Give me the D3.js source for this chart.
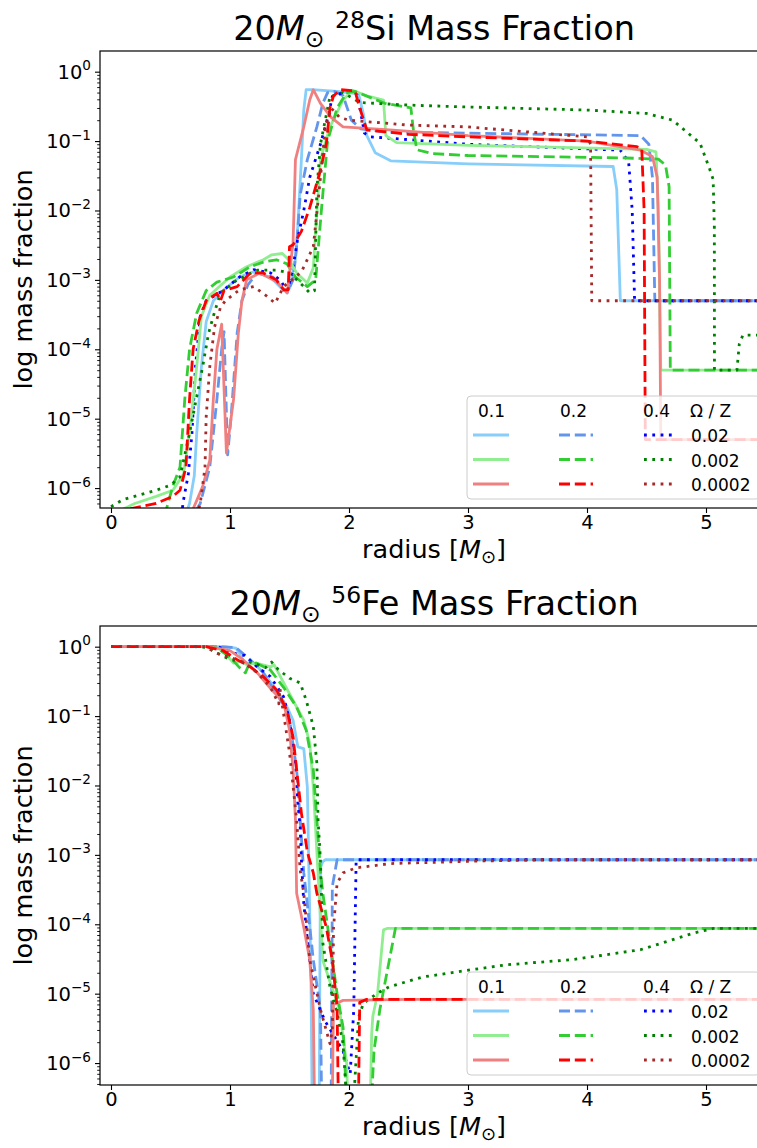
<!DOCTYPE html>
<html><head><meta charset="utf-8">
<script src="https://cdn.jsdelivr.net/npm/d3@7"></script>
<style>body{margin:0;background:#fff}svg{display:block}text{font-family:"DejaVu Sans",sans-serif;fill:#000}</style>
</head><body><svg id="c" width="757" height="1148"></svg>
<script>
// ---------- labels ----------
const omegaLabels = ["0.1", "0.2", "0.4"];
const zLabels = ["0.02", "0.002", "0.0002"];
const xTicks = [0, 1, 2, 3, 4, 5];
const yTickExps = [0, -1, -2, -3, -4, -5, -6];

// ---------- 28Si mass fraction: [radius, X] ----------
const si_z02_o1 = [[0.60,3e-7],[0.66,6e-7],[0.70,1.5e-6],[0.72,6e-6],[0.76,5.6e-5],[0.80,2.5e-4],[0.86,5e-4],[0.94,7e-4],[1.08,1.1e-3],[1.19,1.3e-3],[1.34,1.1e-3],[1.45,7e-4],[1.50,7.5e-4],[1.55,2e-3],[1.57,6e-3],[1.60,5.4e-2],[1.62,0.28],[1.64,0.55],[1.69,0.55],[1.90,0.52],[2.08,0.48],[2.12,0.25],[2.15,0.12],[2.22,0.068],[2.35,0.052],[3.0,0.047],[4.22,0.043],[4.25,0.02],[4.28,5e-4],[5.6,5e-4]];
const si_z02_o2 = [[0.64,3e-7],[0.75,6e-7],[0.83,2e-6],[0.89,1.9e-5],[0.93,1e-4],[0.95,1.8e-4],[0.98,3e-6],[1.01,1.1e-5],[1.06,1.7e-4],[1.10,5e-4],[1.15,8.5e-4],[1.23,1.26e-3],[1.36,1.1e-3],[1.48,6.5e-4],[1.53,1e-3],[1.56,3e-3],[1.59,1.7e-2],[1.65,5.4e-2],[1.73,0.16],[1.78,0.35],[1.82,0.5],[1.88,0.52],[1.95,0.45],[2.02,0.2],[2.1,0.15],[2.3,0.135],[3.0,0.13],[4.45,0.12],[4.52,0.09],[4.55,3e-2],[4.57,5e-4],[5.6,5e-4]];
const si_z02_o4 = [[0.58,3e-7],[0.61,6.8e-7],[0.65,1.6e-6],[0.68,6e-6],[0.71,5.6e-5],[0.75,3e-4],[0.80,5e-4],[0.94,7e-4],[1.08,1.1e-3],[1.20,1.4e-3],[1.34,1.26e-3],[1.42,1e-3],[1.48,7e-4],[1.52,1.2e-3],[1.57,4e-3],[1.62,1e-2],[1.67,3e-2],[1.76,9e-2],[1.83,0.25],[1.86,0.44],[1.95,0.5],[2.07,0.48],[2.10,0.25],[2.13,0.13],[2.18,0.115],[2.5,0.105],[3.0,0.09],[4.28,0.074],[4.35,0.05],[4.38,1e-2],[4.40,5e-4],[5.6,5e-4]];
const si_z002_o1 = [[0.05,4.5e-7],[0.2,6e-7],[0.38,7.6e-7],[0.52,9.3e-7],[0.61,1.6e-6],[0.66,6.2e-6],[0.72,5.6e-5],[0.76,3e-4],[0.83,6e-4],[1.0,1.1e-3],[1.14,1.55e-3],[1.28,1.95e-3],[1.35,2.3e-3],[1.44,2.4e-3],[1.50,1.9e-3],[1.56,1.26e-3],[1.65,9e-4],[1.70,1.5e-3],[1.76,5.4e-2],[1.84,0.16],[1.95,0.39],[2.03,0.54],[2.15,0.45],[2.29,0.39],[2.31,0.12],[2.4,0.095],[3.0,0.087],[4.5,0.076],[4.58,0.07],[4.60,1e-2],[4.62,5e-5],[5.6,5e-5]];
const si_z002_o2 = [[0.45,4e-7],[0.52,1.07e-6],[0.58,2e-6],[0.62,1.9e-5],[0.66,1e-4],[0.72,3.3e-4],[0.80,7e-4],[0.89,9.3e-4],[1.03,1.1e-3],[1.17,1.55e-3],[1.28,1.8e-3],[1.39,1.95e-3],[1.48,1.7e-3],[1.55,1.1e-3],[1.65,8e-4],[1.72,1e-3],[1.77,1.1e-2],[1.82,0.1],[1.90,0.3],[1.98,0.5],[2.05,0.52],[2.3,0.35],[2.52,0.3],[2.54,0.15],[2.57,0.075],[2.7,0.066],[3.0,0.062],[4.33,0.057],[4.60,0.055],[4.66,0.045],[4.69,0.022],[4.70,5e-5],[5.6,5e-5]];
const si_z002_o4 = [[0.0,5.4e-7],[0.1,6.8e-7],[0.38,9.3e-7],[0.5,1.1e-6],[0.58,1.45e-6],[0.66,6.2e-6],[0.77,5.6e-5],[0.82,1.7e-4],[0.86,3e-4],[0.92,6.5e-4],[1.06,1e-3],[1.23,1.38e-3],[1.39,1.38e-3],[1.50,1.26e-3],[1.62,8e-4],[1.67,6.5e-4],[1.71,7e-4],[1.73,2e-2],[1.76,9e-2],[1.84,0.44],[1.95,0.5],[2.09,0.36],[2.5,0.33],[3.0,0.31],[4.0,0.28],[4.5,0.25],[4.72,0.2],[4.95,0.093],[5.03,0.04],[5.06,2.8e-2],[5.07,5.8e-3],[5.071,5e-5],[5.26,5e-5],[5.28,1.2e-4],[5.31,1.6e-4],[5.6,1.6e-4]];
const si_z0002_o1 = [[0.66,3e-7],[0.69,5e-7],[0.77,1.05e-6],[0.83,2.5e-6],[0.86,1.9e-5],[0.89,1e-4],[0.93,2.3e-4],[0.97,3.2e-6],[1.03,1.9e-5],[1.07,1.7e-4],[1.10,5e-4],[1.14,1e-3],[1.25,1.26e-3],[1.39,9.5e-4],[1.48,6.5e-4],[1.53,3.4e-3],[1.55,5.4e-2],[1.62,0.16],[1.67,0.39],[1.70,0.55],[1.76,0.35],[1.85,0.22],[1.95,0.16],[2.34,0.145],[3.0,0.12],[4.0,0.1],[4.45,0.074],[4.55,0.06],[4.59,0.03],[4.61,1e-3],[4.62,5e-6],[5.6,5e-6]];
const si_z0002_o2 = [[0.16,5e-7],[0.38,6e-7],[0.52,7.6e-7],[0.58,9.3e-7],[0.63,2e-6],[0.66,1.9e-5],[0.69,1e-4],[0.74,2.6e-4],[0.80,5e-4],[0.89,6.4e-4],[0.92,5e-4],[0.95,7e-4],[1.06,8e-4],[1.17,1.26e-3],[1.28,1.26e-3],[1.39,1e-3],[1.45,7.2e-4],[1.49,7.2e-4],[1.50,3e-3],[1.53,3.2e-3],[1.60,5e-3],[1.67,1.1e-2],[1.76,3.8e-2],[1.81,9.3e-2],[1.84,0.3],[1.87,0.45],[1.93,0.55],[2.05,0.53],[2.09,0.3],[2.15,0.145],[2.5,0.125],[3.0,0.115],[4.0,0.1],[4.42,0.083],[4.46,0.078],[4.48,1e-2],[4.49,5e-6],[5.6,5e-6]];
const si_z0002_o4 = [[0.70,3e-7],[0.75,6e-7],[0.79,2e-6],[0.80,1.07e-5],[0.83,5.6e-5],[0.87,2.1e-4],[0.92,4e-4],[0.96,5e-4],[1.08,7.2e-4],[1.2,8e-4],[1.3,6e-4],[1.38,4.6e-4],[1.45,8e-4],[1.52,1e-3],[1.6,1.3e-3],[1.7,3e-3],[1.75,2e-2],[1.80,0.15],[1.85,0.3],[1.92,0.22],[2.0,0.2],[2.5,0.17],[3.0,0.16],[4.0,0.115],[4.03,0.09],[4.04,5e-4],[5.6,5e-4]];

// ---------- 56Fe mass fraction: [radius, X] ----------
const fe_z02_o1 = [[0,1.0],[0.95,1.0],[1.0,0.98],[1.05,0.95],[1.08,0.8],[1.12,0.58],[1.2,0.58],[1.28,0.42],[1.39,0.24],[1.48,0.135],[1.53,0.087],[1.57,0.036],[1.62,0.034],[1.65,9.5e-3],[1.66,1.1e-3],[1.68,2e-5],[1.69,3e-7],[1.75,3e-7],[1.76,6.5e-4],[1.78,8e-4],[1.80,8.5e-4],[5.6,8.5e-4]];
const fe_z02_o2 = [[0,1.0],[0.9,1.0],[1.05,0.97],[1.17,0.65],[1.28,0.42],[1.39,0.21],[1.48,0.12],[1.5,0.089],[1.56,0.017],[1.59,3.2e-3],[1.62,5.5e-4],[1.64,2.8e-4],[1.70,3.1e-5],[1.76,5.9e-6],[1.77,3e-7],[1.85,3e-7],[1.86,3.5e-4],[1.90,8.5e-4],[5.6,8.5e-4]];
const fe_z02_o4 = [[0,1.0],[0.9,1.0],[1.0,0.85],[1.06,0.78],[1.12,0.75],[1.23,0.51],[1.34,0.37],[1.45,0.19],[1.5,0.087],[1.55,0.023],[1.57,5.6e-3],[1.59,2.5e-3],[1.60,8.5e-4],[1.62,2e-4],[1.65,6e-5],[1.70,1e-5],[1.8,4e-6],[1.95,1.5e-6],[2.01,7e-7],[2.04,5.9e-6],[2.06,8.5e-4],[5.6,8.5e-4]];
const fe_z002_o1 = [[0,1.0],[0.85,1.0],[0.94,0.88],[1.03,0.58],[1.10,0.62],[1.14,0.55],[1.22,0.58],[1.34,0.51],[1.37,0.55],[1.5,0.21],[1.62,0.087],[1.67,0.041],[1.70,9.5e-3],[1.73,1.1e-3],[1.78,3e-5],[1.92,5.9e-6],[1.98,1e-6],[1.99,3e-7],[2.18,3e-7],[2.19,2.5e-6],[2.20,4.7e-6],[2.24,1e-5],[2.29,8.3e-5],[2.32,8.7e-5],[5.6,8.7e-5]];
const fe_z002_o2 = [[0,1.0],[0.85,1.0],[0.89,0.95],[1.0,0.71],[1.08,0.5],[1.13,0.42],[1.15,0.51],[1.22,0.58],[1.34,0.46],[1.45,0.26],[1.56,0.135],[1.64,0.063],[1.70,1.7e-2],[1.73,3.2e-3],[1.76,6e-4],[1.78,2.8e-4],[1.84,5.4e-5],[1.90,1e-5],[1.95,3.3e-6],[1.98,3e-7],[2.19,3e-7],[2.21,1.5e-6],[2.26,6e-6],[2.34,3.1e-5],[2.39,8.7e-5],[5.6,8.7e-5]];
const fe_z002_o4 = [[0,1.0],[0.7,1.0],[0.8,0.98],[1.0,0.65],[1.17,0.6],[1.3,0.5],[1.35,0.6],[1.4,0.48],[1.5,0.35],[1.59,0.3],[1.64,0.17],[1.70,0.071],[1.73,2.1e-2],[1.74,3.2e-3],[1.76,8.5e-4],[1.78,5.4e-5],[1.84,1.26e-5],[1.90,5.2e-6],[1.95,1.9e-6],[1.98,3e-7],[2.04,3e-7],[2.08,4.5e-6],[2.12,7.2e-6],[2.24,1.02e-5],[2.34,1.26e-5],[2.62,1.74e-5],[3.02,2.2e-5],[3.32,2.6e-5],[3.88,3.1e-5],[4.45,4.3e-5],[4.72,6e-5],[4.9,7.5e-5],[5.06,8.7e-5],[5.6,8.7e-5]];
const fe_z0002_o1 = [[0,1.0],[0.8,1.0],[0.89,0.95],[1.0,0.88],[1.11,0.65],[1.23,0.42],[1.34,0.25],[1.45,0.16],[1.50,0.063],[1.53,1.7e-2],[1.55,3.2e-3],[1.56,2.8e-4],[1.62,9e-5],[1.67,3.1e-5],[1.70,5.9e-6],[1.71,3e-7],[1.86,3e-7],[1.87,7e-6],[1.95,8e-6],[2.5,8.3e-6],[5.6,8.3e-6]];
const fe_z0002_o2 = [[0,1.0],[0.8,1.0],[0.83,0.97],[0.94,0.88],[1.06,0.65],[1.17,0.51],[1.28,0.37],[1.39,0.24],[1.48,0.12],[1.53,0.05],[1.56,0.017],[1.60,4e-3],[1.65,1.1e-3],[1.70,5.5e-4],[1.73,2.8e-4],[1.81,9e-5],[1.86,3e-5],[1.90,6.5e-6],[1.91,3e-7],[2.08,3e-7],[2.09,7.5e-6],[2.15,8.3e-6],[5.6,8.3e-6]];
const fe_z0002_o4 = [[0,1.0],[0.8,1.0],[0.89,0.8],[1.0,0.7],[1.11,0.6],[1.23,0.42],[1.34,0.26],[1.41,0.15],[1.42,0.25],[1.44,0.14],[1.5,0.03],[1.56,3.2e-3],[1.59,6e-4],[1.62,2.8e-4],[1.67,3.1e-5],[1.76,5.9e-6],[1.84,1.9e-6],[1.86,3e-6],[1.87,9e-5],[1.90,3.9e-4],[1.95,5.5e-4],[2.06,6.5e-4],[2.35,7.5e-4],[3.02,8.1e-4],[3.6,8.5e-4],[5.6,8.5e-4]];

// rows = Z (0.02, 0.002, 0.0002), columns = Omega (0.1, 0.2, 0.4)
const siSeries = [[si_z02_o1, si_z02_o2, si_z02_o4],[si_z002_o1, si_z002_o2, si_z002_o4],[si_z0002_o1, si_z0002_o2, si_z0002_o4]];
const feSeries = [[fe_z02_o1, fe_z02_o2, fe_z02_o4],[fe_z002_o1, fe_z002_o2, fe_z002_o4],[fe_z0002_o1, fe_z0002_o2, fe_z0002_o4]];

// ---------- styles ----------
const palette = [["#87cefa","#6495ed","#0000ff"],["#90ee90","#32cd32","#008000"],["#f08080","#ff0000","#a52a2a"]];
const dashes = [null, "11,4.8", "2.8,5.5"];
const LW = 2.8;
const L = 100, R = 768;
const xDomain = [-0.0924, 5.521];

const svg = d3.select("#c");
const defs = svg.append("defs");

const panels = [
  {top:51, bottom:508, yMin:-6.287, yMax:0.298, titleBase:40, iso:"28", elem:"Si Mass Fraction", series:siSeries, legendTop:396},
  {top:626, bottom:1085, yMin:-6.316, yMax:0.298, titleBase:615, iso:"56", elem:"Fe Mass Fraction", series:feSeries, legendTop:972}
];

panels.forEach((p, idx) => {
  const x = d3.scaleLinear().domain(xDomain).range([L, R]);
  const y = d3.scaleLog().domain([Math.pow(10, p.yMin), Math.pow(10, p.yMax)]).range([p.bottom, p.top]);
  const g = svg.append("g");
  const clipId = "clip" + idx;
  defs.append("clipPath").attr("id", clipId).append("rect")
    .attr("x", L).attr("y", p.top).attr("width", R - L).attr("height", p.bottom - p.top);

  const line = d3.line().x(d => x(d[0])).y(d => y(d[1]));
  const lg = g.append("g").attr("clip-path", `url(#${clipId})`);
  p.series.forEach((row, zi) => row.forEach((data, oi) => {
    lg.append("path").attr("d", line(data)).attr("fill", "none")
      .attr("stroke", palette[zi][oi]).attr("stroke-width", LW)
      .attr("stroke-dasharray", dashes[oi]).attr("stroke-linejoin", "round");
  }));

  // spines
  g.append("rect").attr("x", L).attr("y", p.top).attr("width", R - L).attr("height", p.bottom - p.top)
    .attr("fill", "none").attr("stroke", "#000").attr("stroke-width", 1.2);

  // x axis
  const xa = g.append("g").attr("transform", `translate(0,${p.bottom})`)
    .call(d3.axisBottom(x).tickValues(xTicks).tickSize(5).tickPadding(2).tickFormat(d3.format("d")));
  xa.select(".domain").remove();
  xa.selectAll("line").attr("stroke", "#000").attr("stroke-width", 1.1);
  xa.selectAll("text").attr("font-size", 19.5).attr("font-family", "DejaVu Sans").attr("fill", "#000");

  // y axis major / minor
  const majors = yTickExps.map(e => Math.pow(10, e));
  const minors = [];
  for (let e = -7; e <= 0; e++) for (let k = 2; k <= 9; k++) {
    const v = k * Math.pow(10, e);
    if (Math.log10(v) > p.yMin && Math.log10(v) < p.yMax) minors.push(v);
  }
  const ya = g.append("g").attr("transform", `translate(${L},0)`)
    .call(d3.axisLeft(y).tickValues(majors).tickSize(5).tickFormat(""));
  ya.select(".domain").remove();
  ya.selectAll("line").attr("stroke", "#000").attr("stroke-width", 1.1);
  const ym = g.append("g").attr("transform", `translate(${L},0)`)
    .call(d3.axisLeft(y).tickValues(minors).tickSize(2.8).tickFormat(""));
  ym.select(".domain").remove();
  ym.selectAll("line").attr("stroke", "#000").attr("stroke-width", 0.9);

  yTickExps.forEach(e => {
    const t = g.append("text").attr("x", 91).attr("y", y(Math.pow(10, e)) + 7)
      .attr("text-anchor", "end").attr("font-size", 19.5);
    t.append("tspan").text("10");
    t.append("tspan").attr("font-size", 13.6).attr("dy", -8.5).text(e === 0 ? "0" : "\u2212" + (-e));
  });

  // axis labels
  const xl = g.append("text").attr("x", (L + R) / 2).attr("y", p.bottom + 50)
    .attr("text-anchor", "middle").attr("font-size", 25.5);
  xl.append("tspan").text("radius [");
  xl.append("tspan").attr("font-style", "italic").text("M");
  xl.append("tspan").attr("font-size", 18).attr("dy", 5).text("\u2299");
  xl.append("tspan").attr("dy", -5).text("]");

  g.append("text").attr("transform", `translate(32,${(p.top + p.bottom) / 2}) rotate(-90)`)
    .attr("text-anchor", "middle").attr("font-size", 25.5).text("log mass fraction");

  // title
  const tt = g.append("text").attr("x", (L + R) / 2).attr("y", p.titleBase)
    .attr("text-anchor", "middle").attr("font-size", 33.5);
  tt.append("tspan").text("20");
  tt.append("tspan").attr("font-style", "italic").text("M");
  tt.append("tspan").attr("font-size", 23.5).attr("dy", 7).text("\u2299");
  tt.append("tspan").attr("dy", -7).text(" ");
  tt.append("tspan").attr("font-size", 23.5).attr("dy", -12).text(p.iso);
  tt.append("tspan").attr("dy", 12).text(p.elem);

  // legend
  const top = p.legendTop, lx = 467;
  const leg = svg.append("g");
  leg.append("rect").attr("x", lx).attr("y", top).attr("width", 293).attr("height", 103).attr("rx", 4)
    .attr("fill", "#fff").attr("fill-opacity", 0.8).attr("stroke", "#cccccc").attr("stroke-width", 1);
  const hx = [478, 560, 643];
  omegaLabels.forEach((s, i) => leg.append("text").attr("x", hx[i]).attr("y", top + 21).attr("font-size", 17).text(s));
  leg.append("text").attr("x", 690).attr("y", top + 21).attr("font-size", 17).text("\u03A9 / Z");
  const handleX = [[473, 509], [559, 593], [644, 677]];
  zLabels.forEach((z, zi) => {
    const ly = top + 39 + zi * 24.5;
    handleX.forEach((hxr, oi) => {
      leg.append("line").attr("x1", hxr[0]).attr("x2", hxr[1]).attr("y1", ly).attr("y2", ly)
        .attr("stroke", palette[zi][oi]).attr("stroke-width", LW).attr("stroke-dasharray", dashes[oi]);
    });
    leg.append("text").attr("x", 691).attr("y", top + 46 + zi * 24.5).attr("font-size", 17).text(z);
  });
});
</script></body></html>
